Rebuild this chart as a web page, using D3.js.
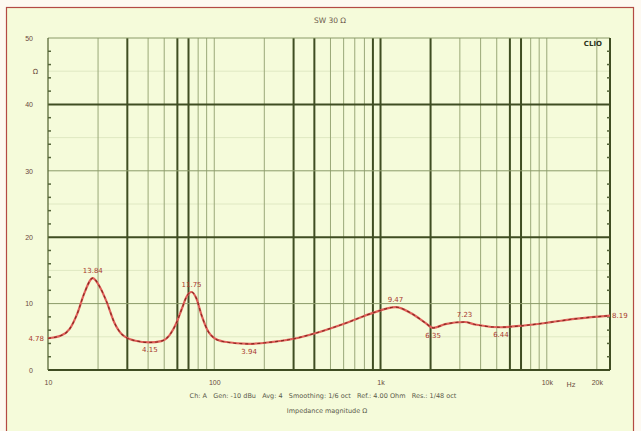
<!DOCTYPE html>
<html><head><meta charset="utf-8">
<script src="https://cdn.jsdelivr.net/npm/d3@7"></script>
<style>
html,body{margin:0;padding:0;background:#fdf9f1;}
svg{display:block;font-family:"DejaVu Sans",sans-serif;}
</style></head>
<body>
<svg id="chart" width="641" height="431"></svg>
<script>
// ---- data ----
const freqs = [10, 12, 13.5, 15, 16.5, 18.6, 20.5, 22.5, 25, 28, 33, 41, 48, 54, 59, 64, 68, 73, 78, 84, 92, 100, 115, 162, 220, 300, 400, 640, 900, 1230, 1540, 1860, 2070, 2450, 3200, 3700, 5300, 7300, 10600, 14700, 20400, 24000];
const ohms  = [4.78, 5.2, 6.2, 8.5, 11.5, 13.84, 12.5, 10.3, 7.2, 5.3, 4.45, 4.15, 4.35, 5.3, 7.0, 9.3, 11.0, 11.75, 10.8, 8.2, 5.8, 4.8, 4.25, 3.94, 4.2, 4.7, 5.5, 7.2, 8.6, 9.47, 8.5, 7.1, 6.35, 6.9, 7.23, 6.85, 6.44, 6.7, 7.2, 7.7, 8.05, 8.19];
const annFreq = [10, 18.6, 41, 73, 162, 1230, 2070, 3200, 5300, 24000];
const annText = ["4.78", "13.84", "4.15", "11.75", "3.94", "9.47", "6.35", "7.23", "6.44", "8.19"];
const annKind = ["left", "above", "below", "above", "below", "above", "below", "above", "below", "right"];
const yTicks = [0, 10, 20, 30, 40, 50];
const xTicks = [10, 100, 1000, 10000, 20000];
const xTickLabels = ["10", "100", "1k", "10k", "20k"];
const gridFreqs = [20,30,40,50,60,70,80,90,100,200,300,400,500,600,700,800,900,1000,2000,3000,4000,5000,6000,7000,8000,9000,10000,20000];
const titleText = "SW 30 Ω";
const badgeText = "CLIO";
const footer1 = "Ch: A   Gen: -10 dBu   Avg: 4   Smoothing: 1/6 oct   Ref.: 4.00 Ohm   Res.: 1/48 oct";
const footer2 = "Impedance magnitude Ω";

// ---- styles (not data) ----
const heavyGrid = [30, 60, 70, 300, 400, 900, 1000, 2000, 6000, 7000];
const heavyH = [0, 20, 40];

const svg = d3.select("#chart");
const L = 48, R = 610, T = 38, B = 370;
const x = d3.scaleLog().domain([10, 24000]).range([L, R]);
const y = d3.scaleLinear().domain([0, 50]).range([B, T]);

// frame
svg.append("rect").attr("x", 6.5).attr("y", 7.5).attr("width", 627).attr("height", 440)
  .attr("fill", "#f5fbda").attr("stroke", "#b34a44").attr("stroke-width", 1.2);

// faint minor horizontal lines
svg.append("g").selectAll("line").data([5,15,25,35,45]).join("line")
  .attr("x1", L).attr("x2", R).attr("y1", d => y(d)).attr("y2", d => y(d))
  .attr("stroke", "#dfe8c2").attr("stroke-width", 1);

// vertical grid
svg.append("g").selectAll("line").data(gridFreqs).join("line")
  .attr("x1", d => x(d)).attr("x2", d => x(d)).attr("y1", T).attr("y2", B)
  .attr("stroke", d => heavyGrid.includes(d) ? "#3f4d22" : "#9aa878")
  .attr("stroke-width", d => heavyGrid.includes(d) ? 2 : 1);

// horizontal grid
svg.append("g").selectAll("line").data(yTicks).join("line")
  .attr("x1", L).attr("x2", R).attr("y1", d => y(d)).attr("y2", d => y(d))
  .attr("stroke", d => heavyH.includes(d) ? "#3f4d22" : "#8a9a68")
  .attr("stroke-width", d => heavyH.includes(d) ? 2 : 1);

// plot border sides
svg.append("line").attr("x1", L).attr("x2", L).attr("y1", T).attr("y2", B).attr("stroke", "#5a6a3a").attr("stroke-width", 1.3);
svg.append("line").attr("x1", R).attr("x2", R).attr("y1", T).attr("y2", B).attr("stroke", "#3f4d22").attr("stroke-width", 2);

// minor ticks both sides
const minor = d3.range(2, 50, 2).filter(v => v % 10 !== 0);
["L", "R"].forEach(side => {
  const x0 = side === "L" ? L : R;
  svg.append("g").selectAll("line").data(minor).join("line")
    .attr("x1", side === "L" ? x0 : x0 - 3).attr("x2", side === "L" ? x0 + 3 : x0)
    .attr("y1", d => y(d)).attr("y2", d => y(d))
    .attr("stroke", "#55653a").attr("stroke-width", 1.5);
});

// y axis labels
const yAx = svg.append("g").attr("transform", `translate(${L - 12},0)`)
  .call(d3.axisLeft(y).tickValues(yTicks).tickSize(0).tickFormat(d3.format("d")));
yAx.select(".domain").remove();
yAx.selectAll("text").attr("fill", "#6b4a3a").attr("font-size", 7);
svg.append("text").attr("x", 38).attr("y", y(45) + 2.5).attr("text-anchor", "end")
  .attr("font-size", 7).attr("fill", "#6b4a3a").text("Ω");

// x axis labels
const xAx = svg.append("g").attr("transform", `translate(0,${B + 7})`)
  .call(d3.axisBottom(x).tickValues(xTicks).tickSize(0).tickFormat((d, i) => xTickLabels[i]));
xAx.select(".domain").remove();
xAx.selectAll("text").attr("fill", "#6b4a3a").attr("font-size", 7);
svg.append("text").attr("x", x(14000)).attr("y", B + 17).attr("text-anchor", "middle")
  .attr("font-size", 7).attr("fill", "#6b4a3a").text("Hz");

// title & badge
svg.append("text").attr("x", 330).attr("y", 23).attr("text-anchor", "middle")
  .attr("font-size", 7.5).attr("fill", "#6b5a4a").text(titleText);
svg.append("text").attr("x", 602).attr("y", 46).attr("text-anchor", "end")
  .attr("font-size", 7).attr("font-weight", "bold").attr("fill", "#2e3420").text(badgeText);

// footer
svg.append("text").attr("x", 323).attr("y", 398).attr("text-anchor", "middle")
  .attr("font-size", 6.5).attr("fill", "#5a5a4a").style("white-space", "pre").text(footer1);
svg.append("text").attr("x", 327).attr("y", 413).attr("text-anchor", "middle")
  .attr("font-size", 6.5).attr("fill", "#5a5a4a").text(footer2);

// curve
const pts = freqs.map((f, i) => [f, ohms[i]]);
const line = d3.line().x(d => x(d[0])).y(d => y(d[1])).curve(d3.curveMonotoneX);
svg.append("path").datum(pts).attr("d", line).attr("fill", "none")
  .attr("stroke", "#e0605a").attr("stroke-width", 2.2);
svg.append("path").datum(pts).attr("d", line).attr("fill", "none")
  .attr("stroke", "#8a2a22").attr("stroke-width", 1.2).attr("stroke-dasharray", "3,3");

// annotations
annFreq.forEach((f, i) => {
  const v = ohms[freqs.indexOf(f)];
  const k = annKind[i];
  let tx = x(f), ty = y(v), anchor = "middle";
  if (k === "above") ty -= 5;
  if (k === "below") ty += 10;
  if (k === "left") { tx -= 4; ty += 2.5; anchor = "end"; }
  if (k === "right") { tx += 2; ty += 2.5; anchor = "start"; }
  svg.append("text").attr("x", tx).attr("y", ty).attr("text-anchor", anchor)
    .attr("font-size", 7).attr("fill", "#a8392e").text(annText[i]);
});
</script>
</body></html>
